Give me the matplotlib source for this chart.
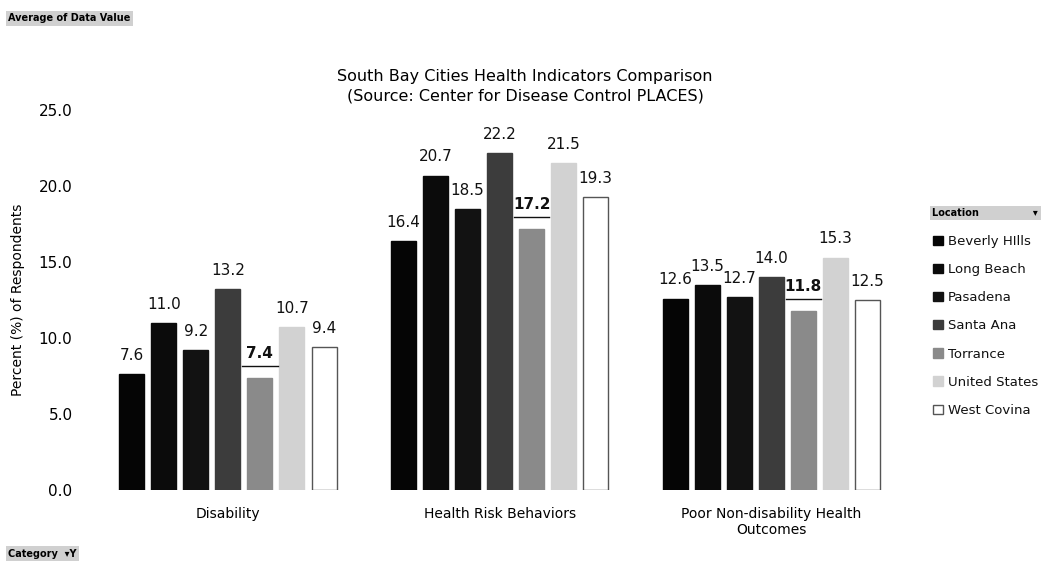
import numpy as np
import matplotlib
matplotlib.use("Agg")
import matplotlib.pyplot as plt
from matplotlib.patches import Patch

plt.rcParams["font.family"] = ["DejaVu Sans"]

# ── data ───────────────────────────────────────────────────────────────────────
categories = ["Disability", "Health Risk Behaviors", "Poor Non-disability Health\nOutcomes"]
locations  = ["Beverly HIlls", "Long Beach", "Pasadena", "Santa Ana",
              "Torrance", "United States", "West Covina"]
values = {
    "Beverly HIlls": [7.6, 16.4, 12.6],
    "Long Beach":    [11.0, 20.7, 13.5],
    "Pasadena":      [9.2, 18.5, 12.7],
    "Santa Ana":     [13.2, 22.2, 14.0],
    "Torrance":      [7.4, 17.2, 11.8],
    "United States": [10.7, 21.5, 15.3],
    "West Covina":   [9.4, 19.3, 12.5],
}
yticks = [0, 5, 10, 15, 20, 25]

colors = ["#050505", "#0b0b0b", "#121212", "#3c3c3c", "#8a8a8a", "#d2d2d2", "#ffffff"]
edges  = ["#050505", "#0b0b0b", "#121212", "#3c3c3c", "#8a8a8a", "#d2d2d2", "#555555"]

fig = plt.figure(figsize=(10.5, 5.71), dpi=100)
ax = fig.add_axes([0.0876, 0.142, 0.7764, 0.665])

x = np.arange(len(categories))
pitch = 0.118
width = 0.092
for i, loc in enumerate(locations):
    off = (i - 3) * pitch
    bars = ax.bar(x + off, values[loc], width, color=colors[i], edgecolor=edges[i],
                  linewidth=1.0, label=loc)
    for b, v in zip(bars, values[loc]):
        cx = b.get_x() + b.get_width() / 2
        if loc == "Torrance":
            # highlighted label: bold + underline
            ax.annotate(f"{v:.1f}", (cx, v), xytext=(0, 12), textcoords="offset points",
                        ha="center", va="bottom", fontsize=11, fontweight="bold",
                        color="#111111")
            ax.plot([cx - 0.065, cx + 0.065], [v + 0.75, v + 0.75], color="#111111",
                    lw=1.0, clip_on=False)
        else:
            ax.annotate(f"{v:.1f}", (cx, v), xytext=(0, 8), textcoords="offset points",
                        ha="center", va="bottom", fontsize=11, color="#111111")

ax.set_xlim(-0.5, 2.5)
ax.set_ylim(0, 25)
ax.set_yticks(yticks)
ax.set_yticklabels([f"{t:.1f}" for t in yticks], fontsize=11)
ax.set_xticks(x)
ax.set_xticklabels(categories, fontsize=10)
ax.tick_params(axis="both", length=0)
ax.tick_params(axis="y", pad=14)
ax.tick_params(axis="x", pad=12)
for s in ax.spines.values():
    s.set_visible(False)
ax.set_ylabel("Percent (%) of Respondents", fontsize=10, labelpad=10)

fig.text(0.5, 0.849, "South Bay Cities Health Indicators Comparison\n(Source: Center for Disease Control PLACES)",
         ha="center", va="center", fontsize=11.5, linespacing=1.35)

# legend
handles = [Patch(facecolor=colors[i], edgecolor=edges[i], label=loc) for i, loc in enumerate(locations)]
leg = fig.legend(handles=handles, loc="upper left", bbox_to_anchor=(0.884, 0.598),
                 frameon=False, fontsize=9.5, handlelength=0.7, handleheight=0.7,
                 handletextpad=0.4, labelspacing=1.15, borderaxespad=0)
for t in leg.get_texts():
    t.set_color("#111111")
fig.text(0.888, 0.627, "Location" + " " * 16 + "▾", fontsize=7, fontweight="bold",
         va="center", ha="left",
         bbox=dict(boxstyle="square,pad=0.25", facecolor="#d0d0d0", edgecolor="none"))

# pivot field buttons
fig.text(0.008, 0.968, "Average of Data Value", fontsize=7, fontweight="bold", va="center",
         bbox=dict(boxstyle="square,pad=0.25", facecolor="#d0d0d0", edgecolor="none"))
fig.text(0.008, 0.030, "Category  ▾Y", fontsize=7, fontweight="bold", va="center",
         bbox=dict(boxstyle="square,pad=0.25", facecolor="#d0d0d0", edgecolor="none"))

fig.savefig("out.png", dpi=100)
